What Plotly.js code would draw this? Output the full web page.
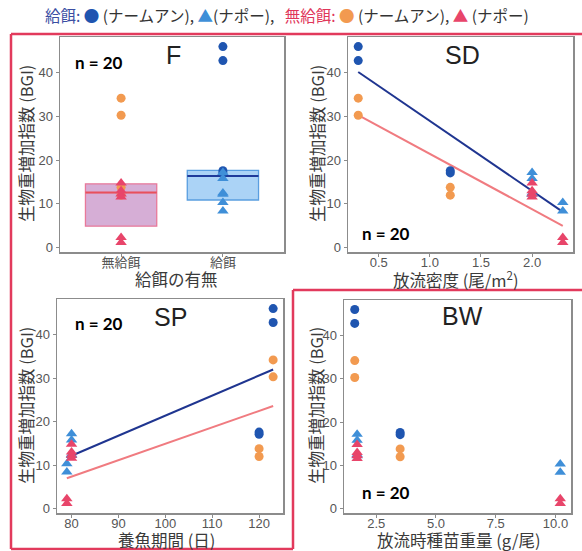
<!DOCTYPE html>
<html><head><meta charset="utf-8">
<script src="https://cdn.plot.ly/plotly-3.0.1.min.js"></script>
<style>body{margin:0;padding:0;background:#fff}</style>
</head><body>
<div id="chart" style="width:582px;height:551px"></div>
<script>
// ---------- data ----------
const feedCats = ['無給餌', '給餌'];
// box statistics for panel F (unfed, fed)
const boxQ1 = [4.9, 10.9];
const boxMedian = [12.6, 16.4];
const boxQ3 = [14.6, 17.7];

// 給餌 ナームアン (fed, circles)
const fedNamBGI = [46.0, 42.8, 17.6, 17.1];
const fedNamSD = [0.3, 0.3, 1.2, 1.2];
const fedNamSP = [123, 123, 120, 120];
const fedNamBW = [1.6, 1.6, 3.5, 3.5];
// 給餌 ナポー (fed, triangles)
const fedNapBGI = [17.2, 15.8, 12.5, 12.2, 10.3, 8.4];
const fedNapSD = [2.0, 2.0, 2.0, 2.0, 2.3, 2.3];
const fedNapSP = [80, 80, 80, 80, 79, 79];
const fedNapBW = [1.7, 1.7, 1.7, 1.7, 10.2, 10.2];
// 無給餌 ナームアン (unfed, circles)
const unfNamBGI = [34.2, 30.3, 13.8, 12.0];
const unfNamSD = [0.3, 0.3, 1.2, 1.2];
const unfNamSP = [123, 123, 120, 120];
const unfNamBW = [1.6, 1.6, 3.5, 3.5];
// 無給餌 ナポー (unfed, triangles)
const unfNapBGI = [14.8, 13.0, 12.3, 11.6, 2.3, 1.2];
const unfNapSD = [2.0, 2.0, 2.0, 2.0, 2.3, 2.3];
const unfNapSP = [80, 80, 80, 80, 79, 79];
const unfNapBW = [1.7, 1.7, 1.7, 1.7, 10.2, 10.2];

// fitted regression lines (end points)
const sdFitX = [0.3, 2.3];
const sdFitFed = [40.2, 8.2];
const sdFitUnf = [30.3, 5.0];
const spFitX = [79, 123];
const spFitFed = [11.7, 32.0];
const spFitUnf = [7.0, 23.6];

// ---------- style ----------
const C = {
  fedNam: '#1f55b0', fedNap: '#3f8fd8', unfNam: '#f29a50', unfNap: '#e8456a',
  fedLine: '#1f3590', unfLine: '#f07b80'
};
const W = 582, H = 551;
const px = x => x / W, py = y => 1 - y / H;
const numFont = 'Liberation Sans, Arial, Noto Sans CJK JP, sans-serif';
const cjkFont = 'Noto Sans CJK JP, sans-serif';

const traces = [];
// panel F boxes
const boxFill = ['rgba(196,140,196,0.7)', 'rgba(110,180,240,0.58)'];
const boxLine = ['#e8799a', '#5a9ee0'];
const medLine = ['#e8505c', '#1f3a9a'];
const boxW = 0.7;
for (let i = 0; i < 2; i++) {
  traces.push({type: 'box', x: [i + 1], q1: [boxQ1[i]], median: [boxMedian[i]], q3: [boxQ3[i]],
    lowerfence: [boxQ1[i]], upperfence: [boxQ3[i]], width: boxW, boxpoints: false,
    fillcolor: boxFill[i], line: {color: boxLine[i], width: 1.3}, xaxis: 'x', yaxis: 'y', hoverinfo: 'skip'});
  traces.push({type: 'scatter', mode: 'lines', x: [i + 1 - boxW / 2, i + 1 + boxW / 2],
    y: [boxMedian[i], boxMedian[i]], line: {color: medLine[i], width: 2}, xaxis: 'x', yaxis: 'y'});
}
function pts(x, y, color, symbol, ax) {
  traces.push({type: 'scatter', mode: 'markers', x: x, y: y, xaxis: 'x' + ax, yaxis: 'y' + ax,
    marker: {color: color, symbol: symbol, size: symbol === 'circle' ? 9 : 10, line: {width: 0}}});
}
function line(x, y, color, ax) {
  traces.push({type: 'scatter', mode: 'lines', x: x, y: y, xaxis: 'x' + ax, yaxis: 'y' + ax,
    line: {color: color, width: 2}});
}
// F panel points
const fx = (arr, i) => arr.map(() => i);
pts(fx(unfNamBGI, 1), unfNamBGI, C.unfNam, 'circle', '');
pts(fx(fedNamBGI, 2), fedNamBGI, C.fedNam, 'circle', '');
pts(fx(fedNapBGI, 2), fedNapBGI, C.fedNap, 'triangle-up', '');
pts(fx(unfNapBGI, 1), unfNapBGI, C.unfNap, 'triangle-up', '');
// SD
line(sdFitX, sdFitFed, C.fedLine, '2');
line(sdFitX, sdFitUnf, C.unfLine, '2');
pts(fedNamSD, fedNamBGI, C.fedNam, 'circle', '2');
pts(unfNamSD, unfNamBGI, C.unfNam, 'circle', '2');
pts(fedNapSD, fedNapBGI, C.fedNap, 'triangle-up', '2');
pts(unfNapSD, unfNapBGI, C.unfNap, 'triangle-up', '2');
// SP
line(spFitX, spFitFed, C.fedLine, '3');
line(spFitX, spFitUnf, C.unfLine, '3');
pts(fedNamSP, fedNamBGI, C.fedNam, 'circle', '3');
pts(unfNamSP, unfNamBGI, C.unfNam, 'circle', '3');
pts(fedNapSP, fedNapBGI, C.fedNap, 'triangle-up', '3');
pts(unfNapSP, unfNapBGI, C.unfNap, 'triangle-up', '3');
// BW
pts(fedNamBW, fedNamBGI, C.fedNam, 'circle', '4');
pts(unfNamBW, unfNamBGI, C.unfNam, 'circle', '4');
pts(fedNapBW, fedNapBGI, C.fedNap, 'triangle-up', '4');
pts(unfNapBW, unfNapBGI, C.unfNap, 'triangle-up', '4');

const axBase = {showline: true, mirror: true, linecolor: '#8c8c8c', linewidth: 1.5, ticks: 'outside',
  ticklen: 3, tickwidth: 1, tickcolor: '#8c8c8c', showgrid: false, zeroline: false,
  tickfont: {family: numFont, size: 13, color: '#555'}, fixedrange: true};
const yRange = [-1.0, 48.2];
const yTicks = [0, 10, 20, 30, 40];
function yax(top, bottom, anchor) {
  return Object.assign({}, axBase, {domain: [py(bottom), py(top)], range: yRange, tickvals: yTicks, anchor: anchor});
}
function xax(left, right, anchor, extra) {
  return Object.assign({}, axBase, {domain: [px(left), px(right)], anchor: anchor, ticklabelstandoff: -5}, extra);
}

const annotations = [];
function ann(text, x, y, size, opts) {
  annotations.push(Object.assign({text: text, x: px(x), y: py(y), xref: 'paper', yref: 'paper',
    showarrow: false, xanchor: 'center', yanchor: 'middle',
    font: {family: cjkFont, size: size, color: '#3a3a3a'}}, opts || {}));
}
// panel letters
const letterFont = {family: numFont, size: 25, color: '#222'};
ann('F', 173, 55, 25, {font: letterFont});
ann('SD', 462, 55, 25, {font: letterFont});
ann('SP', 170, 317, 25, {font: letterFont});
ann('BW', 463, 316, 25, {font: letterFont});
// n = 20
const nFont = {family: 'Lato, Liberation Sans, sans-serif', size: 17, color: '#000', weight: 'bold'};
ann('<b>n = 20</b>', 99, 62, 17, {font: nFont});
ann('<b>n = 20</b>', 386, 233, 17, {font: nFont});
ann('<b>n = 20</b>', 99, 323, 17, {font: nFont});
ann('<b>n = 20</b>', 386, 492, 17, {font: nFont});
// axis titles
const yTitle = '生物重増加指数 (BGI)';
ann(yTitle, 26, 144, 16.5, {textangle: -90});
ann(yTitle, 317, 144, 16.5, {textangle: -90});
ann(yTitle, 26, 406, 16.5, {textangle: -90});
ann(yTitle, 316, 406, 16.5, {textangle: -90});
ann('給餌の有無', 176, 279, 16.5);
ann('放流密度 (尾/m<sup>2</sup>)', 456, 279, 16.5);
ann('養魚期間 (日)', 166, 540, 16.5);
ann('放流時種苗重量 (g/尾)', 459, 540, 16.5);
// top legend line
const sp = '\u00A0';
const legendText =
  '<span style="color:#3b4ea3">給餌:</span>' + sp + '<span style="color:' + C.fedNam + '">●</span>' + sp + '(ナームアン),' + sp +
  '<span style="color:' + C.fedNap + '">▲</span>(ナポー),' + sp + sp + sp +
  '<span style="color:#e0365a">無給餌:</span>' + sp + '<span style="color:' + C.unfNam + '">●</span>' + sp + '(ナームアン),' + sp +
  '<span style="color:' + C.unfNap + '">▲</span>' + sp + '(ナポー)';
ann(legendText, 43, 15, 15.5, {xanchor: 'left', font: {family: cjkFont, size: 15.5, color: '#333'}});

// red frames
const red = {color: '#e23a5c', width: 2.5};
const shapes = [
  {x0: px(11), x1: px(582), y0: py(34), y1: py(34)},
  {x0: px(11), x1: px(11), y0: py(34), y1: py(549)},
  {x0: px(11), x1: px(293), y0: py(549), y1: py(549)},
  {x0: px(293), x1: px(293), y0: py(290), y1: py(549)},
  {x0: px(293), x1: px(582), y0: py(290), y1: py(290)}
].map(s => Object.assign({type: 'line', xref: 'paper', yref: 'paper', line: red}, s));

const layout = {
  width: W, height: H, margin: {l: 0, r: 0, t: 0, b: 0},
  paper_bgcolor: '#fff', plot_bgcolor: '#fff', showlegend: false, boxmode: 'overlay',
  xaxis: xax(60, 284, 'y', {range: [0.4, 2.6], tickvals: [1, 2], ticktext: feedCats,
    tickfont: {family: cjkFont, size: 13, color: '#555'}}),
  yaxis: yax(37, 252, 'x'),
  xaxis2: xax(348, 573, 'y2', {range: [0.2, 2.4], tickvals: [0.5, 1.0, 1.5, 2.0], tickformat: '.1f'}),
  yaxis2: yax(37, 252, 'x2'),
  xaxis3: xax(57, 283, 'y3', {range: [76.9, 125.1], tickvals: [80, 90, 100, 110, 120]}),
  yaxis3: yax(299, 513, 'x3'),
  xaxis4: xax(344, 571, 'y4', {range: [1.15, 10.65], tickvals: [2.5, 5.0, 7.5, 10.0], tickformat: '.1f'}),
  yaxis4: yax(300, 513, 'x4'),
  annotations: annotations, shapes: shapes
};
Plotly.newPlot('chart', traces, layout, {staticPlot: true, displayModeBar: false});
</script>
</body></html>
